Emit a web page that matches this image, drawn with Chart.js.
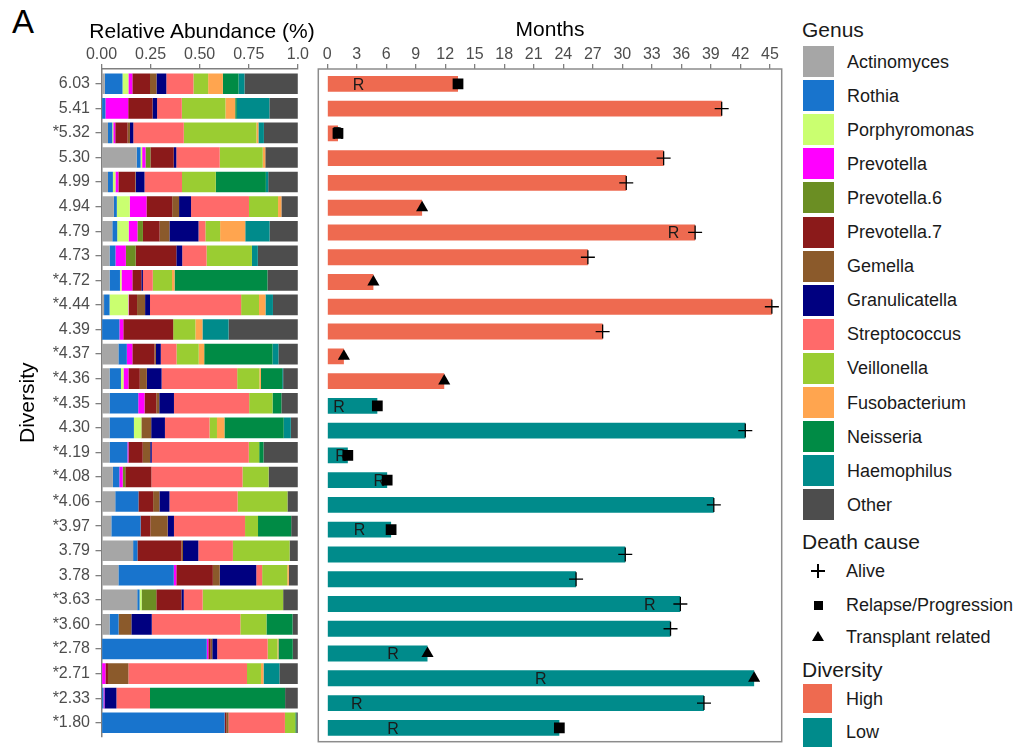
<!DOCTYPE html>
<html>
<head>
<meta charset="utf-8">
<script src="https://cdn.jsdelivr.net/npm/chart.js@4.4.1/dist/chart.umd.min.js"></script>
<style>
  html, body { margin: 0; padding: 0; background: #fff; }
  body { width: 1026px; height: 750px; position: relative; overflow: hidden;
         font-family: "Liberation Sans", Arial, Helvetica, sans-serif; }
  .abs { position: absolute; }
  #wrapA { left: 0; top: 0; width: 310px; height: 750px; }
  #wrapB { left: 310px; top: 0; width: 480px; height: 750px; }
  .tag { left: 12px; top: 5px; font-size: 33px; line-height: 33px; color: #000; }
  .axis-title { left: 52px; width: 300px; top: 19px; text-align: center; font-size: 21px; line-height: 24px; color: #000; white-space: nowrap; }
  .lg-title { left: 802px; font-size: 21px; line-height: 24px; color: #1a1a1a; white-space: nowrap; }
  .lg-key { left: 803px; width: 31px; height: 31px; }
  .lg-text { left: 847px; font-size: 18px; line-height: 24px; color: #1a1a1a; white-space: nowrap; }
  .sym-h { background: #000; }
</style>
</head>
<body>
<div class="abs tag">A</div>
<div id="wrapA" class="abs"><canvas id="abundance" width="310" height="750"></canvas></div>
<div id="wrapB" class="abs"><canvas id="months" width="480" height="750"></canvas></div>
<div class="abs axis-title">Relative Abundance (%)</div>
<div id="legend"></div>

<script>
// ---- sample labels (Shannon diversity; * marks a relapse) ----
const diversityLabels = ['6.03','5.41','*5.32','5.30','4.99','4.94','4.79','4.73','*4.72','*4.44',
  '4.39','*4.37','*4.36','*4.35','4.30','*4.19','*4.08','*4.06','*3.97','3.79',
  '3.78','*3.63','*3.60','*2.78','*2.71','*2.33','*1.80'];

// ---- relative abundance per genus, one value per sample ----
const actinomyces    = [.017,0,.033,.179,.033,.063,.055,.041,.041,.013,0,.086,.041,.041,.041,.041,.058,.070,.050,.161,.086,.182,.041,0,0,0,0];
const rothia         = [.090,.020,.022,.020,.025,.015,.025,.030,.053,.028,.091,.043,.058,.146,.124,.091,.033,.118,.149,.022,.282,.012,.046,.536,0,.010,.627];
const porphyromonas  = [.030,0,.005,.008,.013,.066,.058,0,.008,.096,0,0,.013,0,.038,0,0,0,0,0,0,.010,0,0,0,0,0];
const prevotella     = [.020,.116,.010,.017,.015,.085,.045,.053,.055,.003,.020,.028,.025,.032,0,.005,.017,0,0,0,.013,0,0,.008,.020,.005,0];
const prevotella6    = [0,0,0,.025,0,0,.028,.050,0,0,0,0,0,0,0,0,.013,0,0,0,0,.075,0,0,0,0,0];
const prevotella7    = [.090,.124,.063,.119,.085,.131,.085,.207,.046,.041,.254,.113,.058,.060,0,.073,.133,.075,.050,.224,.186,.128,0,.012,.013,0,.008];
const gemella        = [.033,0,.012,0,.003,.035,.050,0,0,.041,0,.007,.036,.015,.050,.038,0,.032,.088,.008,.035,0,.065,.008,.104,0,.012];
const granulicatella = [.050,.023,.017,.013,.045,.061,.148,.030,.008,.025,0,.025,.075,.075,.070,.008,0,.051,.032,.078,.186,.012,.104,.025,0,.061,0];
const streptococcus  = [.138,.126,.257,.221,.191,.295,.035,.124,.050,.464,0,.080,.385,.383,.227,.494,.464,.347,.362,.176,.030,.096,.451,.257,.604,.171,.287];
const veillonella    = [.075,.222,.370,.219,.172,.148,.075,.231,.098,.091,.113,.113,.113,.119,.038,.053,.133,.254,.066,.289,.128,.410,.133,.050,.071,0,.053];
const fusobacterium  = [.075,.050,.010,.013,0,.017,.128,0,.013,.033,.036,.028,.008,0,.038,0,0,0,0,0,.008,0,0,.005,.013,0,0];
const neisseria      = [.080,.008,0,0,.255,0,0,0,.473,0,0,.348,.108,.045,.302,.022,0,0,.169,0,0,0,.133,.073,0,.688,.005];
const haemophilus    = [.030,.166,.028,0,.012,0,.124,.030,0,.038,.133,.030,.005,0,.036,0,0,0,0,0,0,0,0,0,.081,0,0];
const other          = [.272,.145,.173,.166,.151,.084,.144,.204,.155,.127,.353,.099,.075,.084,.036,.175,.149,.053,.034,.042,.046,.075,.027,.026,.094,.065,.008];

// ---- follow-up per sample ----
const months = [13.3,40.1,1.1,34.2,30.4,9.65,37.4,26.5,4.7,45.2,28.0,1.7,11.9,5.1,42.5,2.1,6.1,39.3,6.5,30.3,25.3,35.9,34.9,10.2,43.4,38.3,23.6];
const deathCause = ['Relapse/Progression','Alive','Relapse/Progression','Alive','Alive','Transplant related','Alive','Alive',
  'Transplant related','Alive','Alive','Transplant related','Transplant related','Relapse/Progression','Alive',
  'Relapse/Progression','Relapse/Progression','Alive','Relapse/Progression','Alive','Alive','Alive','Alive',
  'Transplant related','Transplant related','Alive','Relapse/Progression'];
const diversityGroup = ['High','High','High','High','High','High','High','High','High','High','High','High','High',
  'Low','Low','Low','Low','Low','Low','Low','Low','Low','Low','Low','Low','Low','Low'];
// month at which the relapse "R" is placed (null = no relapse)
const relapseAt = [3.2,null,1.1,null,null,null,35.2,null,null,null,null,null,null,1.2,null,1.4,5.3,null,3.3,null,null,32.8,null,6.7,21.7,3.0,6.7];

// ---- axis ticks ----
const abundanceTicks = [0, 0.25, 0.5, 0.75, 1];
const abundanceTickLabels = ['0.00','0.25','0.50','0.75','1.0'];
const monthTicks = [0,3,6,9,12,15,18,21,24,27,30,33,36,39,42,45];

// ---- styles ----
const genera = [
  ['Actinomyces', actinomyces, '#A6A6A6'],
  ['Rothia', rothia, '#1874CD'],
  ['Porphyromonas', porphyromonas, '#CAFF70'],
  ['Prevotella', prevotella, '#FF00FF'],
  ['Prevotella.6', prevotella6, '#6B8E23'],
  ['Prevotella.7', prevotella7, '#8B1A1A'],
  ['Gemella', gemella, '#8B5A2B'],
  ['Granulicatella', granulicatella, '#000080'],
  ['Streptococcus', streptococcus, '#FF6A6A'],
  ['Veillonella', veillonella, '#9ACD32'],
  ['Fusobacterium', fusobacterium, '#FFA54F'],
  ['Neisseria', neisseria, '#008B45'],
  ['Haemophilus', haemophilus, '#008B8B'],
  ['Other', other, '#4D4D4D']
];
const groupColors = { High: '#EE6A50', Low: '#008B8B' };
const causeStyles = [
  ['Alive', 'cross'],
  ['Relapse/Progression', 'rect'],
  ['Transplant related', 'triangle']
];

const axisGray = '#7f7f7f';
const tickText = '#4d4d4d';
const FONT = '"Liberation Sans", Arial, Helvetica, sans-serif';
const rowMin = -0.6, rowMax = 26.56;

Chart.defaults.font.family = FONT;

const tickFont = { family: FONT, size: 16, lineHeight: 1 };
const rowIndex = diversityLabels.map((_, i) => i);

// ---- left panel: stacked relative abundance ----
new Chart(document.getElementById('abundance'), {
  type: 'bar',
  data: {
    datasets: genera.map(([name, vals, color]) => ({
      label: name,
      data: vals.map((v, i) => ({ x: v, y: i })),
      backgroundColor: color,
      borderWidth: 0,
      barPercentage: 0.84,
      categoryPercentage: 1,
      stack: 'abundance'
    }))
  },
  options: {
    indexAxis: 'y',
    responsive: false,
    animation: false,
    events: [],
    layout: { padding: { left: 0, top: 0, right: 7.5, bottom: 2 } },
    plugins: { legend: { display: false }, tooltip: { enabled: false } },
    scales: {
      x: {
        type: 'linear', position: 'top', min: 0, max: 1, stacked: true,
        afterFit: s => { s.height = 69; },
        afterBuildTicks: s => { s.ticks = abundanceTicks.map(v => ({ value: v })); },
        ticks: { callback: (v, i) => abundanceTickLabels[i], color: tickText, font: tickFont,
                 padding: 1, maxRotation: 0, autoSkip: false },
        grid: { drawOnChartArea: false, drawTicks: true, tickLength: 5, color: axisGray, lineWidth: 1.3 },
        border: { display: true, color: axisGray, width: 1.5 }
      },
      y: {
        type: 'linear', min: rowMin, max: rowMax, reverse: true, offset: false,
        afterFit: s => { s.width = 101.5; },
        ticks: { stepSize: 1, includeBounds: false, autoSkip: false, maxTicksLimit: 100,
                 callback: v => (Number.isInteger(v) && diversityLabels[v] !== undefined) ? diversityLabels[v] : '',
                 color: tickText, font: tickFont, padding: 5.5 },
        grid: { drawOnChartArea: false, drawTicks: true, tickLength: 6, color: axisGray, lineWidth: 1.3, offset: false },
        border: { display: true, color: axisGray, width: 1.5 },
        title: { display: true, text: 'Diversity', color: '#000',
                 font: { family: FONT, size: 21 }, padding: { top: 16, bottom: 0 } }
      }
    }
  }
});

// ---- right panel: months of follow-up with outcome markers ----
const panelFrame = {
  id: 'panelFrame',
  afterDraw(chart) {
    const { ctx, chartArea: a } = chart;
    ctx.save();
    ctx.strokeStyle = '#8c8c8c';
    ctx.lineWidth = 1.5;
    ctx.strokeRect(a.left, a.top, a.right - a.left, a.bottom - a.top);
    ctx.restore();
  }
};
// relapse "R" labels sit on the bars, below the outcome markers
const relapseMarks = {
  id: 'relapseMarks',
  afterDatasetDraw(chart, args) {
    if (args.index !== 0) return;
    const { ctx, scales: { x, y } } = chart;
    ctx.save();
    ctx.fillStyle = '#1a1a1a';
    ctx.font = '16px ' + FONT;
    ctx.textAlign = 'center';
    ctx.textBaseline = 'alphabetic';
    relapseAt.forEach((m, i) => {
      if (m === null) return;
      ctx.fillText('R', x.getPixelForValue(m), y.getPixelForValue(i) + 5.8);
    });
    ctx.restore();
  }
};

const markerSets = causeStyles.map(([cause, style]) => ({
  type: 'scatter',
  label: cause,
  order: 0,
  data: rowIndex.filter(i => deathCause[i] === cause).map(i => ({ x: months[i], y: i })),
  pointStyle: style,
  pointRadius: style === 'cross' ? 7 : (style === 'rect' ? 7.6 : 7),
  backgroundColor: '#000',
  borderColor: '#000',
  borderWidth: style === 'cross' ? 1.3 : 0
}));

new Chart(document.getElementById('months'), {
  type: 'bar',
  data: {
    datasets: [{
      type: 'bar',
      label: 'Months',
      order: 1,
      data: months.map((m, i) => ({ x: m, y: i })),
      backgroundColor: diversityGroup.map(g => groupColors[g]),
      borderWidth: 0,
      barPercentage: 0.64,
      categoryPercentage: 1
    }, ...markerSets]
  },
  options: {
    indexAxis: 'y',
    responsive: false,
    animation: false,
    events: [],
    layout: { padding: { left: 7, top: 0, right: 6, bottom: 2 } },
    plugins: { legend: { display: false }, tooltip: { enabled: false } },
    scales: {
      x: {
        type: 'linear', position: 'top', min: -0.9, max: 46.2,
        afterFit: s => { s.height = 69; },
        afterBuildTicks: s => { s.ticks = monthTicks.map(v => ({ value: v })); },
        ticks: { callback: v => String(v), color: tickText, font: tickFont, padding: 1,
                 maxRotation: 0, autoSkip: false },
        grid: { drawOnChartArea: false, drawTicks: true, tickLength: 5, color: axisGray, lineWidth: 1.3 },
        border: { display: false },
        title: { display: true, text: 'Months', color: '#000',
                 font: { family: FONT, size: 21 }, padding: { top: 18, bottom: 0 } }
      },
      y: {
        type: 'linear', min: rowMin, max: rowMax, reverse: true, offset: false, display: false,
        ticks: { stepSize: 1, includeBounds: false, maxTicksLimit: 100 }, grid: { offset: false }
      }
    }
  },
  plugins: [relapseMarks, panelFrame]
});

// ---- legend ----
const legend = document.getElementById('legend');
function add(cls, styles, text) {
  const d = document.createElement('div');
  d.className = 'abs ' + cls;
  Object.assign(d.style, styles);
  if (text) d.textContent = text;
  legend.appendChild(d);
  return d;
}
add('lg-title', { top: '18px' }, 'Genus');
genera.forEach(([name, , color], k) => {
  const c = 61.5 + k * 34.1;
  add('lg-key', { top: (c - 15.5) + 'px', background: color });
  add('lg-text', { top: (c - 12) + 'px' }, name);
});
add('lg-title', { top: '530px' }, 'Death cause');
const symY = [571, 605, 637];
causeStyles.forEach(([cause, style], k) => {
  const c = symY[k];
  if (style === 'cross') {
    add('sym-h', { left: '811px', top: (c - 0.75) + 'px', width: '14px', height: '1.5px' });
    add('sym-h', { left: '817.25px', top: (c - 7) + 'px', width: '1.5px', height: '14px' });
  } else if (style === 'rect') {
    add('sym-h', { left: '814px', top: (c - 4.5) + 'px', width: '9px', height: '9px' });
  } else {
    add('', { left: '812px', top: (c - 6) + 'px', width: '0', height: '0',
      borderLeft: '6px solid transparent', borderRight: '6px solid transparent', borderBottom: '10px solid #000' });
  }
  add('lg-text', { left: '846px', top: (c - 12) + 'px' }, cause);
});
add('lg-title', { top: '658px' }, 'Diversity');
['High', 'Low'].forEach((g, k) => {
  const c = 698.5 + k * 33.5;
  add('lg-key', { top: (c - 14.5) + 'px', width: '29px', height: '29px', background: groupColors[g] });
  add('lg-text', { left: '846px', top: (c - 12) + 'px' }, g);
});
</script>
</body>
</html>
